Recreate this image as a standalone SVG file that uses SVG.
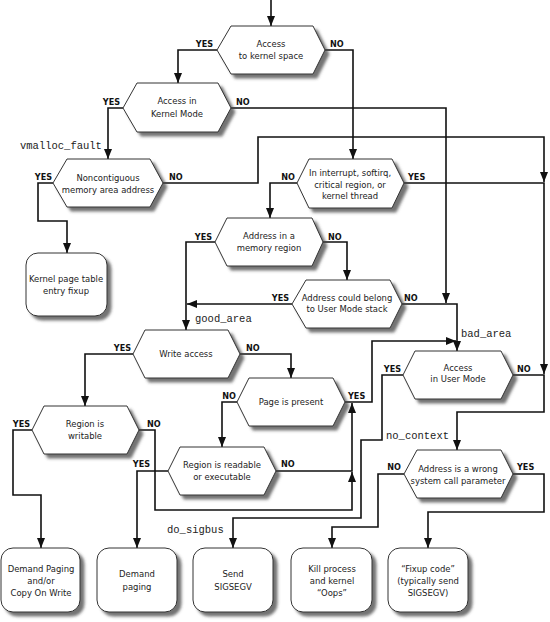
<svg xmlns="http://www.w3.org/2000/svg" width="550" height="622" viewBox="0 0 550 622">
<style>
.n{fill:#fff;stroke:#333;stroke-width:1;filter:url(#sh)}
.t{font-family:"DejaVu Sans Condensed","Liberation Sans Narrow","Liberation Sans",sans-serif;font-size:9.4px;fill:#222;text-anchor:middle}
.l{font-family:"DejaVu Sans Condensed","Liberation Sans Narrow","Liberation Sans",sans-serif;font-size:9px;font-weight:bold;fill:#111}
.e{text-anchor:end}
.m{font-family:"Liberation Mono","DejaVu Sans Mono",monospace;font-size:10.5px;fill:#222}
.c path{fill:none;stroke:#111;stroke-width:1.6;marker-end:url(#a)}
</style>
<defs>
<filter id="sh" x="-10%" y="-10%" width="130%" height="140%">
<feDropShadow dx="4" dy="4" stdDeviation="1.6" flood-color="#444" flood-opacity="0.75"/>
</filter>
<marker id="a" markerUnits="userSpaceOnUse" markerWidth="10" markerHeight="8" refX="10" refY="4" orient="auto">
<path d="M0,0 L10,4 L0,8 z" fill="#111"/>
</marker>
</defs>
<rect width="550" height="622" fill="#fff"/>
<g class="c" id="connectors">
<path d="M271,0 V26"/>
<path d="M217,50 H178 V83"/>
<path d="M325,50 H353 V159"/>
<path d="M123,108 H108 V159"/>
<path d="M231,108 H446 V303"/>
<path d="M53,183 H38 V221 H67 V253"/>
<path d="M163,183 H258 V137 H544 V182"/>
<path d="M404,183 H544 V374"/>
<path d="M513,375 H544 V412 H457 V450"/>
<path d="M297,183 H270 V218"/>
<path d="M215,242 H186 V330"/>
<path d="M323,242 H347 V280"/>
<path d="M292,304 H187"/>
<path d="M402,304 H457 V351"/>
<path d="M133,354 H85 V406"/>
<path d="M240,354 H291 V378"/>
<path d="M237,402 H222 V447"/>
<path d="M345,402 H372 V341 H456"/>
<path d="M276,471 H352 V403"/>
<path d="M139,430 H155 V510 H352 V472"/>
<path d="M168,471 H137 V548"/>
<path d="M32,430 H13 V495 H41 V548"/>
<path d="M403,375 H382 V440 H361 V518 H233 V548"/>
<path d="M404,474 H378 V527 H332 V548"/>
<path d="M513,474 H544 V512 H428 V548"/>
</g>
<g id="labels">
<text class="l e" x="213" y="47">YES</text><text class="l" x="330" y="47">NO</text>
<text class="l e" x="120" y="105">YES</text><text class="l" x="236" y="105">NO</text>
<text class="l e" x="52" y="180">YES</text><text class="l" x="169" y="180">NO</text>
<text class="l e" x="295" y="180">NO</text><text class="l" x="408" y="180">YES</text>
<text class="l e" x="212" y="240">YES</text><text class="l" x="328" y="240">NO</text>
<text class="l e" x="289" y="301">YES</text><text class="l" x="404" y="301">NO</text>
<text class="l e" x="131" y="351">YES</text><text class="l" x="246" y="351">NO</text>
<text class="l e" x="236" y="399">NO</text><text class="l" x="348" y="399">YES</text>
<text class="l e" x="30" y="427">YES</text><text class="l" x="147" y="427">NO</text>
<text class="l e" x="150" y="467">YES</text><text class="l" x="281" y="467">NO</text>
<text class="l e" x="401" y="372">YES</text><text class="l" x="517" y="372">NO</text>
<text class="l e" x="401" y="470">NO</text><text class="l" x="517" y="470">YES</text>
<text class="m" x="20" y="149">vmalloc_fault</text>
<text class="m" x="195" y="322">good_area</text>
<text class="m" x="461" y="337">bad_area</text>
<text class="m" x="386" y="439">no_context</text>
<text class="m" x="167" y="533">do_sigbus</text>
</g>
<g id="n1"><polygon class="n" points="231,26 313,26 325,50 313,74 231,74 217,50"/>
<text class="t" x="271" y="47">Access</text><text class="t" x="271" y="59">to kernel space</text></g>
<g id="n2"><polygon class="n" points="137,83 218,83 231,108 218,132 137,132 123,108"/>
<text class="t" x="177" y="104">Access in</text><text class="t" x="177" y="117">Kernel Mode</text></g>
<g id="n3"><polygon class="n" points="67,159 150,159 163,183 150,207 67,207 53,183"/>
<text class="t" x="108" y="181">Noncontiguous</text><text class="t" x="108" y="193">memory area address</text></g>
<g id="n4"><polygon class="n" points="309,159 392,159 404,183 392,208 309,208 297,183"/>
<text class="t" x="350" y="176">In interrupt, softirq,</text><text class="t" x="350" y="188">critical region, or</text><text class="t" x="350" y="199">kernel thread</text></g>
<g id="n5"><polygon class="n" points="227,218 312,218 323,242 312,266 227,266 215,242"/>
<text class="t" x="269" y="239">Address in a</text><text class="t" x="269" y="251">memory region</text></g>
<g id="n6"><polygon class="n" points="306,280 390,280 402,304 390,328 306,328 292,304"/>
<text class="t" x="347" y="301">Address could belong</text><text class="t" x="347" y="312">to User Mode stack</text></g>
<g id="n7"><polygon class="n" points="145,330 228,330 240,354 228,378 145,378 133,354"/>
<text class="t" x="186" y="357">Write access</text></g>
<g id="n8"><polygon class="n" points="249,378 333,378 345,402 333,426 249,426 237,402"/>
<text class="t" x="291" y="405">Page is present</text></g>
<g id="n9"><polygon class="n" points="44,406 127,406 139,430 127,454 44,454 32,430"/>
<text class="t" x="85" y="427">Region is</text><text class="t" x="85" y="439">writable</text></g>
<g id="n10"><polygon class="n" points="180,447 264,447 276,471 264,495 180,495 168,471"/>
<text class="t" x="222" y="468">Region is readable</text><text class="t" x="222" y="480">or executable</text></g>
<g id="n11"><polygon class="n" points="415,351 501,351 513,375 501,399 415,399 403,375"/>
<text class="t" x="458" y="371">Access</text><text class="t" x="458" y="382">in User Mode</text></g>
<g id="n12"><polygon class="n" points="417,450 501,450 513,474 501,498 417,498 404,474"/>
<text class="t" x="458" y="472">Address is a wrong</text><text class="t" x="458" y="484">system call parameter</text></g>
<g id="n13"><rect class="n" x="26" y="253" width="81" height="63" rx="12"/>
<text class="t" x="66" y="282">Kernel page table</text><text class="t" x="66" y="294">entry fixup</text></g>
<g id="n14"><rect class="n" x="1" y="548" width="79" height="64" rx="12"/>
<text class="t" x="41" y="572">Demand Paging</text><text class="t" x="41" y="584">and/or</text><text class="t" x="41" y="596">Copy On Write</text></g>
<g id="n15"><rect class="n" x="97" y="548" width="80" height="64" rx="12"/>
<text class="t" x="137" y="577">Demand</text><text class="t" x="137" y="590">paging</text></g>
<g id="n16"><rect class="n" x="193" y="548" width="80" height="64" rx="12"/>
<text class="t" x="233" y="577">Send</text><text class="t" x="233" y="590">SIGSEGV</text></g>
<g id="n17"><rect class="n" x="291" y="548" width="81" height="64" rx="12"/>
<text class="t" x="332" y="572">Kill process</text><text class="t" x="332" y="584">and kernel</text><text class="t" x="332" y="596">“Oops”</text></g>
<g id="n18"><rect class="n" x="388" y="548" width="80" height="64" rx="12"/>
<text class="t" x="428" y="572">“Fixup code”</text><text class="t" x="428" y="584">(typically send</text><text class="t" x="428" y="596">SIGSEGV)</text></g>
</svg>
